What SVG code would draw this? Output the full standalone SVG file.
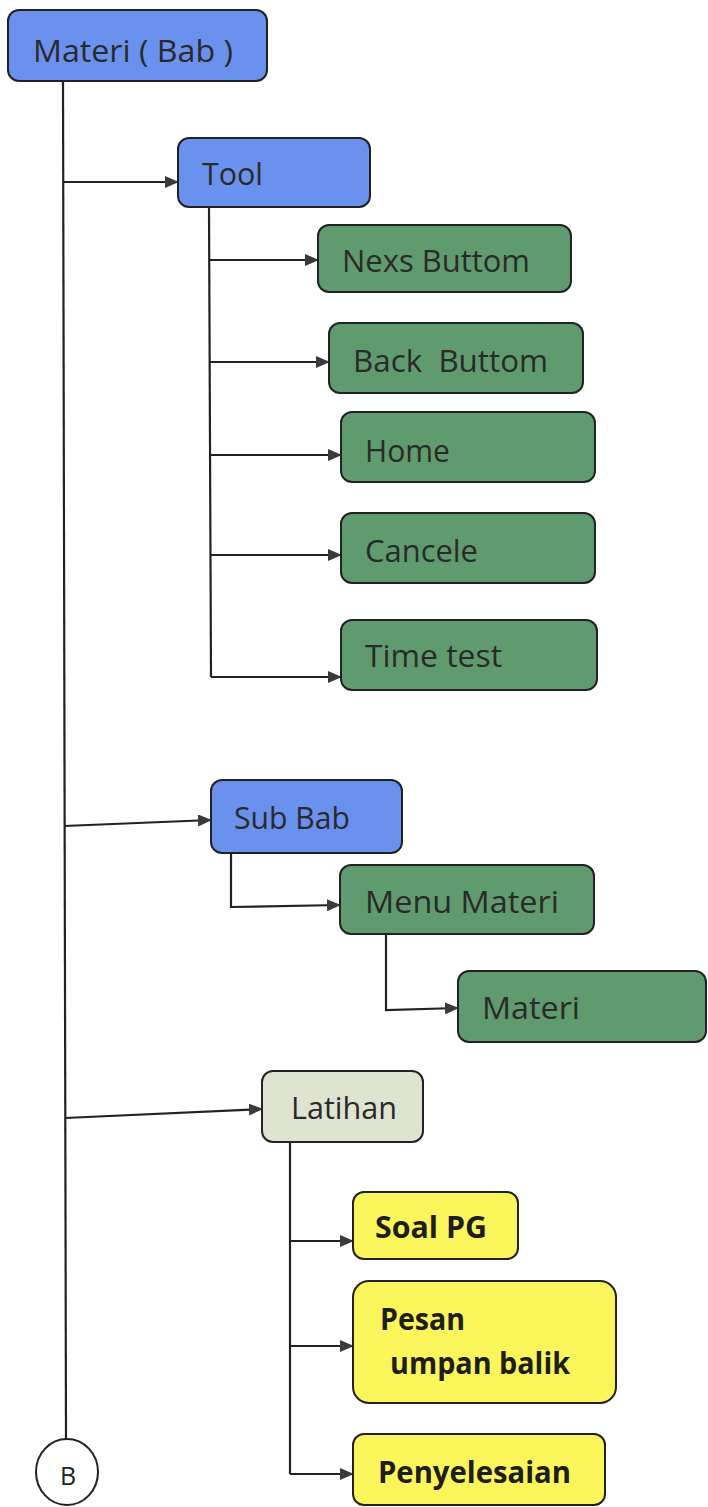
<svg xmlns="http://www.w3.org/2000/svg" width="708" height="1507" viewBox="0 0 708 1507">
<style>
.box{stroke:#222;stroke-width:2}
.blue{fill:#6a91ee}
.green{fill:#5f9b6f}
.pale{fill:#dfe4d0}
.yellow{fill:#f9f55a}
.t{font-family:"Open Sans","Liberation Sans",sans-serif;font-size:31px;fill:#2a2a2a}
.tb{font-family:"Open Sans","Liberation Sans",sans-serif;font-size:30px;font-weight:bold;fill:#1e1e1e}
.ln{fill:none;stroke:#222;stroke-width:2.2}
</style>
<defs>
<marker id="ah" markerUnits="userSpaceOnUse" markerWidth="15" markerHeight="12" refX="13" refY="6" orient="auto">
<path d="M0,0 L14,6 L0,12 z" fill="#3a3a3a"/>
</marker>
</defs>
<g id="connectors">
<path class="ln" d="M63,82 L66,1440"/>
<path class="ln" d="M63,182 L178,182" marker-end="url(#ah)"/>
<path class="ln" d="M209,207 L211,677"/>
<path class="ln" d="M209,260 L318,260" marker-end="url(#ah)"/>
<path class="ln" d="M210,362 L329,362" marker-end="url(#ah)"/>
<path class="ln" d="M210,455 L341,455" marker-end="url(#ah)"/>
<path class="ln" d="M211,555 L341,555" marker-end="url(#ah)"/>
<path class="ln" d="M211,677 L341,677" marker-end="url(#ah)"/>
<path class="ln" d="M64,826 L211,820" marker-end="url(#ah)"/>
<path class="ln" d="M231,853 L231,907 L340,905" marker-end="url(#ah)"/>
<path class="ln" d="M386,934 L386,1010 L458,1008" marker-end="url(#ah)"/>
<path class="ln" d="M65,1118 L262,1109" marker-end="url(#ah)"/>
<path class="ln" d="M290,1142 L290,1474"/>
<path class="ln" d="M290,1241 L353,1241" marker-end="url(#ah)"/>
<path class="ln" d="M290,1346 L353,1346" marker-end="url(#ah)"/>
<path class="ln" d="M290,1474 L353,1474" marker-end="url(#ah)"/>
</g>
<g id="materi-bab">
<rect class="box blue" x="8" y="10" width="259" height="71" rx="11"/>
<text class="t" x="33" y="62" font-size="33" textLength="200" lengthAdjust="spacingAndGlyphs">Materi ( Bab )</text>
</g>
<g id="tool">
<rect class="box blue" x="178" y="138" width="192" height="69" rx="11"/>
<text class="t" x="202" y="185" font-size="32" textLength="61" lengthAdjust="spacingAndGlyphs">Tool</text>
</g>
<g id="nexs-buttom">
<rect class="box green" x="318" y="225" width="253" height="67" rx="11"/>
<text class="t" x="342" y="272" textLength="188" lengthAdjust="spacingAndGlyphs">Nexs Buttom</text>
</g>
<g id="back-buttom">
<rect class="box green" x="329" y="323" width="254" height="70" rx="11"/>
<text class="t" x="353" y="372" xml:space="preserve" textLength="195" lengthAdjust="spacingAndGlyphs">Back  Buttom</text>
</g>
<g id="home">
<rect class="box green" x="341" y="412" width="254" height="70" rx="11"/>
<text class="t" x="365" y="462" textLength="85" lengthAdjust="spacingAndGlyphs">Home</text>
</g>
<g id="cancele">
<rect class="box green" x="341" y="513" width="254" height="70" rx="11"/>
<text class="t" x="365" y="562" textLength="113" lengthAdjust="spacingAndGlyphs">Cancele</text>
</g>
<g id="time-test">
<rect class="box green" x="341" y="620" width="256" height="70" rx="11"/>
<text class="t" x="365" y="667" textLength="137" lengthAdjust="spacingAndGlyphs">Time test</text>
</g>
<g id="sub-bab">
<rect class="box blue" x="211" y="780" width="191" height="73" rx="11"/>
<text class="t" x="234" y="829" textLength="116" lengthAdjust="spacingAndGlyphs">Sub Bab</text>
</g>
<g id="menu-materi">
<rect class="box green" x="340" y="865" width="254" height="69" rx="11"/>
<text class="t" x="365" y="913" textLength="194" lengthAdjust="spacingAndGlyphs">Menu Materi</text>
</g>
<g id="materi">
<rect class="box green" x="458" y="971" width="248" height="71" rx="11"/>
<text class="t" x="482" y="1019" textLength="98" lengthAdjust="spacingAndGlyphs">Materi</text>
</g>
<g id="latihan">
<rect class="box pale" x="262" y="1071" width="161" height="71" rx="11"/>
<text class="t" x="291" y="1119" textLength="106" lengthAdjust="spacingAndGlyphs">Latihan</text>
</g>
<g id="soal-pg">
<rect class="box yellow" x="353" y="1192" width="165" height="67" rx="11"/>
<text class="tb" x="375" y="1238" textLength="112" lengthAdjust="spacingAndGlyphs">Soal PG</text>
</g>
<g id="pesan-umpan-balik">
<rect class="box yellow" x="353" y="1281" width="263" height="122" rx="16"/>
<text class="tb" x="380" y="1330" textLength="85" lengthAdjust="spacingAndGlyphs">Pesan</text>
<text class="tb" x="390" y="1374" textLength="180" lengthAdjust="spacingAndGlyphs">umpan balik</text>
</g>
<g id="penyelesaian">
<rect class="box yellow" x="353" y="1434" width="252" height="71" rx="11"/>
<text class="tb" x="378" y="1483" textLength="193" lengthAdjust="spacingAndGlyphs">Penyelesaian</text>
</g>
<g id="connector-b">
<ellipse cx="67" cy="1472" rx="31" ry="33" fill="#fff" stroke="#222" stroke-width="2"/>
<text x="68" y="1485" text-anchor="middle" font-family="Open Sans, Liberation Sans, sans-serif" font-size="25" fill="#222">B</text>
</g>
</svg>
